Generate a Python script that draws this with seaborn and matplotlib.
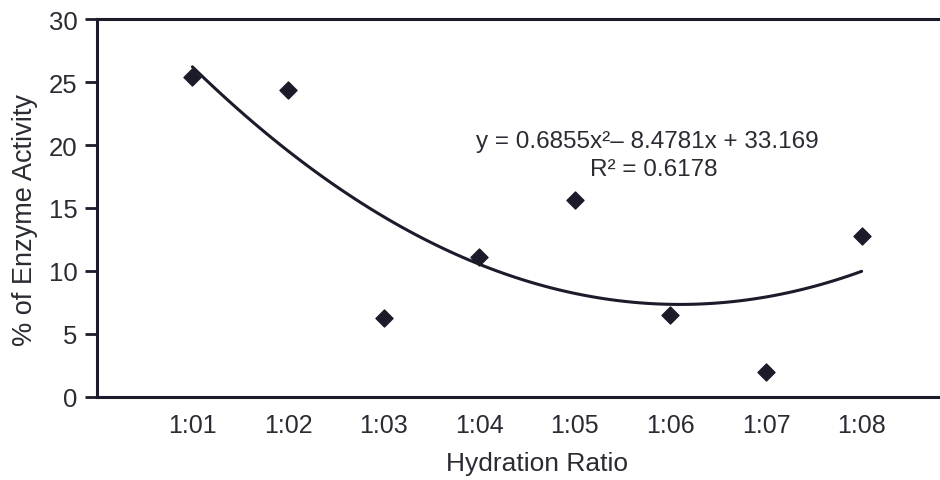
import matplotlib
matplotlib.use("Agg")
import matplotlib.pyplot as plt
import seaborn as sns
import numpy as np
import pandas as pd

# Data
ratios = ["1:01", "1:02", "1:03", "1:04", "1:05", "1:06", "1:07", "1:08"]
positions = [1, 2, 3, 4, 5, 6, 7, 8]
activity = [25.4, 24.4, 6.25, 11.1, 15.6, 6.5, 2.0, 12.8]
equation_text = "y = 0.6855x\u00b2\u2013 8.4781x + 33.169"
r2_text = "R\u00b2 = 0.6178"
y_ticks = [0, 5, 10, 15, 20, 25, 30]

df = pd.DataFrame({"pos": positions, "activity": activity})

sns.set_style("white")
plt.rcParams["font.family"] = ["Liberation Sans", "DejaVu Sans"]

ink = "#1b1b2a"
txt = "#2b2b33"
fig = plt.figure(figsize=(9.4, 4.81), dpi=100)
ax = fig.add_axes([0.103, 0.173, 0.895, 0.785])

sns.regplot(data=df, x="pos", y="activity", order=2, ci=None, truncate=True,
            marker="D", ax=ax,
            scatter_kws=dict(s=75, color=ink, edgecolor=ink, alpha=1, zorder=3),
            line_kws=dict(color=ink, lw=2.2))

ax.set_xlim(0, 8.8)
ax.set_ylim(0, 30)
ax.set_yticks(y_ticks)
ax.set_yticklabels([str(t) for t in y_ticks], fontsize=18.5, color=txt)
ax.set_xticks(positions)
ax.set_xticklabels(ratios, fontsize=18, color=txt)
ax.tick_params(axis="y", direction="out", length=9, width=2, color=ink, pad=5, left=True)
ax.tick_params(axis="x", length=0, pad=12)

for side in ["left", "bottom", "top"]:
    ax.spines[side].set_visible(True)
    ax.spines[side].set_color(ink)
    ax.spines[side].set_linewidth(2.2)
ax.spines["right"].set_visible(False)

ax.set_xlabel("Hydration Ratio", fontsize=19, color=txt, labelpad=10, x=0.523)
ax.set_ylabel("% of Enzyme Activity", fontsize=19.5, color=txt, labelpad=8, y=0.47)

ax.text(5.76, 20.3, equation_text, ha="center", va="center", fontsize=17.5, color=txt)
ax.text(5.83, 18.1, r2_text, ha="center", va="center", fontsize=17.5, color=txt)

fig.savefig("out.png", dpi=100)
